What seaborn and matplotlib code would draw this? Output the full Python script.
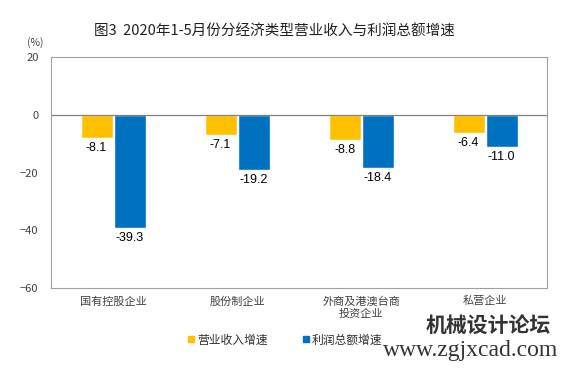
import pandas as pd
import numpy as np
import seaborn as sns
import matplotlib.pyplot as plt

# 数据
categories = ['国有控股企业', '股份制企业', '外商及港澳台商\n投资企业', '私营企业']
revenue = [-8.1, -7.1, -8.8, -6.4]
profit = [-39.3, -19.2, -18.4, -11.0]
series = ['营业收入增速', '利润总额增速']
colors = ['#FFC000', '#0070C0']

df = pd.DataFrame({
    'cat': categories * 2,
    'val': revenue + profit,
    'series': [series[0]] * 4 + [series[1]] * 4,
})

sns.set_style('white')
plt.rcParams['font.family'] = ['Noto Sans CJK SC', 'DejaVu Sans']

fig = plt.figure(figsize=(5.71, 3.70), dpi=100)
ax = fig.add_axes([0.0893, 0.2216, 0.869, 0.6243])

sns.barplot(data=df, x='cat', y='val', hue='series', palette=colors,
            width=0.532, gap=0.03, ax=ax, legend=False, saturation=1)

# 数值标签
for cont in ax.containers:
    ax.bar_label(cont, fmt='%.1f', padding=3, fontsize=9,
                 family='Liberation Sans', color='#000000')

ax.set_ylim(-60, 20)
ax.set_yticks([-60, -40, -20, 0, 20])
ax.set_xlim(-0.5, 3.5)
ax.axhline(0, color='#808080', lw=0.9)
ax.set_xlabel('')
ax.set_ylabel('')
ax.tick_params(axis='both', length=0, labelsize=8, colors='#404040')
ax.tick_params(axis='y', pad=9)
ax.tick_params(axis='x', pad=6)
for s in ax.spines.values():
    s.set_color('#a0a0a0')
    s.set_linewidth(0.8)

fig.text(0.48, 0.914, '图3  2020年1-5月份分经济类型营业收入与利润总额增速',
         ha='center', va='center', fontsize=10.5, color='#202020')
fig.text(0.061, 0.884, '(%)', ha='center', va='center', fontsize=7.5, color='#404040')

# 图例
handles = [plt.Rectangle((0, 0), 1, 1, color=c) for c in colors]
fig.legend(handles, series, loc='center', bbox_to_anchor=(0.50, 0.081), ncol=2,
           frameon=False, fontsize=8.5, handlelength=0.45, handleheight=0.45,
           columnspacing=3.0, handletextpad=0.3, labelcolor='#303030')

# 水印
fig.text(0.855, 0.122, '机械设计论坛', ha='center', va='center', fontsize=15,
         color='#333333', fontweight='bold')
fig.text(0.825, 0.052, 'www.zgjxcad.com', ha='center', va='center', fontsize=17,
         color='#333333', family='Liberation Serif')

fig.savefig('out.png', dpi=100)
